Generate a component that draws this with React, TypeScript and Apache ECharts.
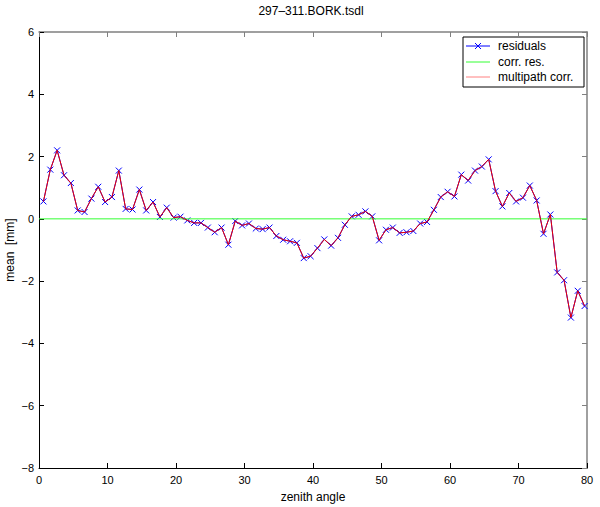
import React, { useEffect, useRef } from "react";
import * as echarts from "echarts";

const zenith = [
  0.65, 1.65, 2.65, 3.65, 4.65, 5.65, 6.65, 7.65, 8.65, 9.65,
  10.65, 11.65, 12.65, 13.65, 14.65, 15.65, 16.65, 17.65, 18.65, 19.65,
  20.65, 21.65, 22.65, 23.65, 24.65, 25.65, 26.65, 27.65, 28.65, 29.65,
  30.65, 31.65, 32.65, 33.65, 34.65, 35.65, 36.65, 37.65, 38.65, 39.65,
  40.65, 41.65, 42.65, 43.65, 44.65, 45.65, 46.65, 47.65, 48.65, 49.65,
  50.65, 51.65, 52.65, 53.65, 54.65, 55.65, 56.65, 57.65, 58.65, 59.65,
  60.65, 61.65, 62.65, 63.65, 64.65, 65.65, 66.65, 67.65, 68.65, 69.65,
  70.65, 71.65, 72.65, 73.65, 74.65, 75.65, 76.65, 77.65, 78.65, 79.65,
];

const residuals = [
  0.56, 1.58, 2.2, 1.4, 1.15, 0.27, 0.22, 0.65, 1.03, 0.54,
  0.7, 1.55, 0.32, 0.3, 0.94, 0.27, 0.54, 0.06, 0.36, 0.04,
  0.07, -0.05, -0.13, -0.13, -0.28, -0.43, -0.28, -0.83, -0.07, -0.21,
  -0.15, -0.31, -0.33, -0.28, -0.55, -0.67, -0.72, -0.77, -1.26, -1.2,
  -0.94, -0.66, -0.86, -0.61, -0.19, 0.08, 0.13, 0.24, 0.08, -0.69,
  -0.35, -0.28, -0.45, -0.43, -0.39, -0.15, -0.1, 0.29, 0.7, 0.87,
  0.72, 1.42, 1.23, 1.55, 1.68, 1.91, 0.89, 0.4, 0.83, 0.56,
  0.68, 1.07, 0.59, -0.48, 0.14, -1.72, -1.97, -3.17, -2.31, -2.8,
];

const multipath = [
  0.56, 1.58, 2.2, 1.4, 1.15, 0.27, 0.22, 0.65, 1.03, 0.54,
  0.7, 1.55, 0.32, 0.3, 0.94, 0.27, 0.54, 0.06, 0.36, 0.04,
  0.07, -0.05, -0.13, -0.13, -0.28, -0.43, -0.28, -0.83, -0.07, -0.21,
  -0.15, -0.31, -0.33, -0.28, -0.55, -0.67, -0.72, -0.77, -1.26, -1.2,
  -0.94, -0.66, -0.86, -0.61, -0.19, 0.08, 0.13, 0.24, 0.08, -0.69,
  -0.35, -0.28, -0.45, -0.43, -0.39, -0.15, -0.1, 0.29, 0.7, 0.87,
  0.72, 1.42, 1.23, 1.55, 1.68, 1.91, 0.89, 0.4, 0.83, 0.56,
  0.68, 1.07, 0.59, -0.48, 0.14, -1.72, -1.97, -3.17, -2.31, -2.8,
];

const corrX = [0, 80];
const corrRes = [0, 0];

const xTicks = [0, 10, 20, 30, 40, 50, 60, 70, 80];
const yTicks = [-8, -6, -4, -2, 0, 2, 4, 6];

const FONT = "'Liberation Sans', Arial, Helvetica, sans-serif";

export default function App() {
  const ref = useRef<HTMLDivElement>(null);

  useEffect(() => {
    document.body.style.margin = "0";
    if (!ref.current) return;
    const chart = echarts.init(ref.current, null, { renderer: "svg" });
    const fmt = (v: number) => String(v).replace("-", "\u2212");
    const blackTick = { inside: true, length: 5, lineStyle: { color: "#000", width: 1 } };
    const grayTick = { inside: true, length: 5, lineStyle: { color: "#808080", width: 1 } };
    chart.setOption({
      animation: false,
      backgroundColor: "#ffffff",
      textStyle: { fontFamily: FONT },
      grid: { left: 39, right: 13, top: 32, bottom: 39, containLabel: false },
      xAxis: [
        {
          type: "value",
          min: xTicks[0],
          max: xTicks[xTicks.length - 1],
          interval: 10,
          position: "bottom",
          splitLine: { show: false },
          axisTick: blackTick,
          axisLine: { onZero: false, lineStyle: { color: "#000", width: 1 } },
          axisLabel: { color: "#000", fontSize: 11, fontFamily: FONT, margin: 6, formatter: fmt },
        },
        {
          type: "value",
          min: xTicks[0],
          max: xTicks[xTicks.length - 1],
          interval: 10,
          position: "top",
          splitLine: { show: false },
          axisLine: { onZero: false, lineStyle: { color: "#808080", width: 1.5 } },
          axisTick: grayTick,
          axisLabel: { show: false },
        },
      ],
      yAxis: [
        {
          type: "value",
          min: yTicks[0],
          max: yTicks[yTicks.length - 1],
          interval: 2,
          position: "left",
          splitLine: { show: false },
          axisTick: blackTick,
          axisLine: { onZero: false, lineStyle: { color: "#000", width: 1 } },
          axisLabel: { color: "#000", fontSize: 11, fontFamily: FONT, margin: 5, formatter: fmt },
        },
        {
          type: "value",
          min: yTicks[0],
          max: yTicks[yTicks.length - 1],
          interval: 2,
          position: "right",
          splitLine: { show: false },
          axisLine: { onZero: false, lineStyle: { color: "#808080", width: 1.5 } },
          axisTick: grayTick,
          axisLabel: { show: false },
        },
      ],
      series: [
        {
          name: "residuals",
          type: "line",
          data: zenith.map((x, i) => [x, residuals[i]]),
          symbol: "path://M0,0L10,10M10,0L0,10",
          symbolSize: 6,
          showSymbol: true,
          lineStyle: { color: "#0000ff", width: 1 },
          itemStyle: { color: "transparent", borderColor: "#0000ff", borderWidth: 1 },
          z: 2,
        },
        {
          name: "corr. res.",
          type: "line",
          data: corrX.map((x, i) => [x, corrRes[i]]),
          symbol: "none",
          lineStyle: { color: "#33ff33", width: 1 },
          z: 3,
        },
        {
          name: "multipath corr.",
          type: "line",
          data: zenith.map((x, i) => [x, multipath[i]]),
          symbol: "none",
          lineStyle: { color: "#ee0000", width: 1 },
          z: 4,
        },
      ],
      graphic: [
        {
          type: "text",
          style: { text: "297\u2013311.BORK.tsdl", x: 311, y: 5, fill: "#000", font: `12px ${FONT}`, textAlign: "center" },
        },
        {
          type: "text",
          style: { text: "zenith angle", x: 313, y: 491, fill: "#000", font: `12px ${FONT}`, textAlign: "center" },
        },
        {
          type: "text",
          x: 4,
          y: 250,
          rotation: Math.PI / 2,
          style: { text: "mean\u00a0\u00a0[mm]", x: 0, y: 0, fill: "#000", font: `12px ${FONT}`, textAlign: "center", textVerticalAlign: "top" },
        },
        {
          type: "group",
          z: 100,
          children: [
            { type: "rect", shape: { x: 463, y: 37, width: 121, height: 50 }, style: { fill: "#fff", stroke: "#000", lineWidth: 1 } },
            { type: "line", shape: { x1: 466, y1: 46, x2: 490, y2: 46 }, style: { stroke: "#0000ff", lineWidth: 1 } },
            { type: "line", shape: { x1: 475, y1: 43, x2: 481, y2: 49 }, style: { stroke: "#0000ff", lineWidth: 1 } },
            { type: "line", shape: { x1: 481, y1: 43, x2: 475, y2: 49 }, style: { stroke: "#0000ff", lineWidth: 1 } },
            { type: "text", style: { text: "residuals", x: 498, y: 46, fill: "#000", font: `12px ${FONT}`, textVerticalAlign: "middle" } },
            { type: "line", shape: { x1: 466, y1: 62, x2: 490, y2: 62 }, style: { stroke: "#33ff33", lineWidth: 1 } },
            { type: "text", style: { text: "corr. res.", x: 498, y: 62, fill: "#000", font: `12px ${FONT}`, textVerticalAlign: "middle" } },
            { type: "line", shape: { x1: 466, y1: 77, x2: 490, y2: 77 }, style: { stroke: "#ff8080", lineWidth: 1 } },
            { type: "text", style: { text: "multipath corr.", x: 498, y: 77, fill: "#000", font: `12px ${FONT}`, textVerticalAlign: "middle" } },
          ],
        },
      ],
    });
    return () => chart.dispose();
  }, []);

  return <div ref={ref} style={{ width: 600, height: 507 }} />;
}
